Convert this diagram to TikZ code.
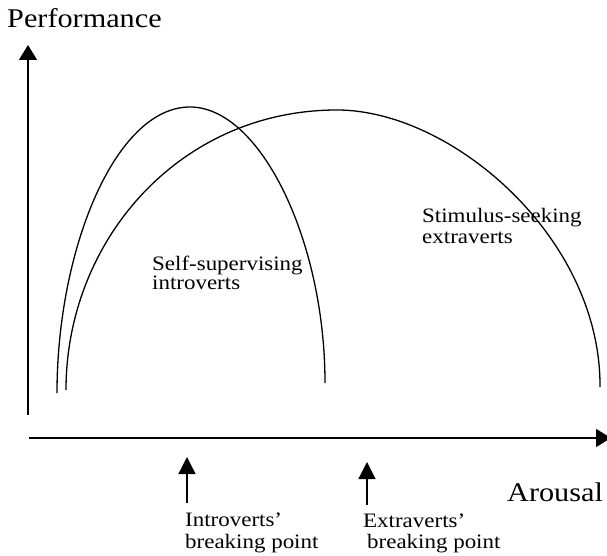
\documentclass[tikz,border=0pt]{standalone}
\usepackage{fontspec}
\setmainfont{Liberation Serif}[FakeStretch=1.12]
\usetikzlibrary{arrows.meta}
\tikzset{
  axis/.style={line width=1.5pt},
  curve/.style={line width=1.3pt},
  bigtxt/.style={inner sep=0pt, anchor=base west, font=\fontsize{27}{30}\selectfont},
  smalltxt/.style={inner sep=0pt, anchor=base west, font=\fontsize{20.5}{22}\selectfont},
  ptr/.style={line width=1.3pt, -{Triangle[length=17pt,width=17pt]}}
}
\begin{document}
\begin{tikzpicture}[x=1pt,y=-1pt]
\useasboundingbox (0,0) rectangle (607,556);
\clip (0,0) rectangle (607,556);
% axes
\coordinate (yb) at (28,415);
\coordinate (yt) at (28,45);
\coordinate (xl) at (29,438);
\coordinate (xr) at (611,438);
\draw[axis,-{Triangle[length=15pt,width=18pt]}] (yb) -- (yt);
\draw[axis,-{Triangle[length=15pt,width=18pt]}] (xl) -- (xr);
\node[bigtxt] (perf) at (7,28) {Performance};
\node[bigtxt] (arousal) at (507,501) {Arousal};
% curves
\coordinate (i0) at (57,393);
\coordinate (ip) at (190,107);
\coordinate (i1) at (325,383);
\coordinate (e0) at (66,390);
\coordinate (ep) at (337,110);
\coordinate (e1) at (600,387);
\draw[curve] (i0) .. controls (57,250) and (115,107) .. (ip)
             .. controls (260,107) and (325,240) .. (i1);
\draw[curve] (e0) .. controls (66,240) and (180,110) .. (ep)
             .. controls (452,110) and (601,238) .. (e1);
% labels
\node[smalltxt] (ss1) at (152,270) {Self-supervising};
\node[smalltxt] (ss2) at (152,289) {introverts};
\node[smalltxt] (sk1) at (422,222) {Stimulus-seeking};
\node[smalltxt] (sk2) at (422,243) {extraverts};
% breaking points
\coordinate (ib) at (187,503);
\coordinate (it) at (187,457);
\coordinate (eb) at (367,505);
\coordinate (et) at (367,462);
\draw[ptr] (ib) -- (it);
\draw[ptr] (eb) -- (et);
\node[smalltxt] (ib1) at (185,526) {Introverts’};
\node[smalltxt] (ib2) at (185,548) {breaking point};
\node[smalltxt] (eb1) at (363,527) {Extraverts’};
\node[smalltxt] (eb2) at (367,548) {breaking point};
\end{tikzpicture}
\end{document}
